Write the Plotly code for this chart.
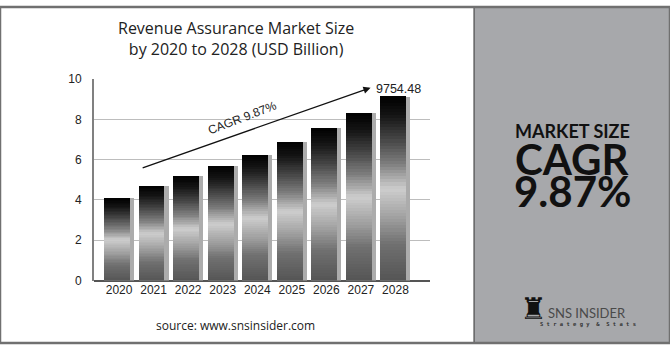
import plotly.graph_objects as go
import numpy as np

# ---- data ----
years = ["2020", "2021", "2022", "2023", "2024", "2025", "2026", "2027", "2028"]
values = [4.10, 4.71, 5.19, 5.68, 6.24, 6.87, 7.56, 8.30, 9.13]
y_ticks = [0, 2, 4, 6, 8, 10]
title_text = "Revenue Assurance Market Size<br>by 2020 to 2028 (USD Billion)"
cagr_text = "CAGR 9.87%"
end_label = "9754.48"
source_text = "source: www.snsinsider.com"

# gradient stops (fraction from bottom, grey level)
grad_pos = [0.0, 0.2, 0.34, 0.5, 0.63, 0.78, 0.9, 1.0]
grad_lvl = [85, 112, 160, 205, 128, 64, 20, 0]

def grey(t):
    v = int(round(np.interp(t, grad_pos, grad_lvl)))
    return f"rgb({v},{v},{v})"

fig = go.Figure()

# shadow strip behind each bar
fig.add_trace(go.Bar(
    x=years, y=values, width=0.87, offset=-0.435,
    marker=dict(color="#acacac", line=dict(width=0)),
    hoverinfo="skip", showlegend=False))

# gradient bars built from horizontal slices
N = 60
vals = np.array(values)
for k in range(N):
    t0 = k / N
    fig.add_trace(go.Bar(
        x=years, y=vals / N * 1.03, base=vals * t0, width=0.75, offset=-0.435,
        marker=dict(color=grey((k + 0.5) / N), line=dict(width=0)),
        hoverinfo="skip", showlegend=False))

def pa(x, y, text, size, family="Lato", color="#111", **kw):
    return dict(x=x / 670, y=1 - y / 350, xref="paper", yref="paper", text=text,
                showarrow=False, xanchor="center", yanchor="middle",
                font=dict(family=family, size=size, color=color), **kw)

ann = []
# CAGR arrow
ann.append(dict(x=7.28, y=9.57, ax=0.64, ay=5.57, xref="x", yref="y", axref="x", ayref="y",
                text="", showarrow=True, arrowhead=2, arrowsize=1.1, arrowwidth=1.3,
                arrowcolor="#111"))
ann.append(dict(x=3.55, y=8.08, xref="x", yref="y", text=cagr_text, showarrow=False,
                xanchor="center", yanchor="middle", textangle=-21,
                font=dict(family="Liberation Sans", size=12, color="#222")))
ann.append(dict(x=8.1, y=9.5, xref="x", yref="y", text=end_label, showarrow=False,
                xanchor="center", yanchor="middle",
                font=dict(family="Liberation Sans", size=12.5, color="#222")))
# title
ann.append(pa(236, 33, title_text, 16, family="Open Sans", color="#222", align="center"))
# source
ann.append(pa(235, 332, source_text, 12, family="Open Sans", color="#222"))
# right panel text
ann.append(pa(572, 129, "<b>MARKET SIZE</b>", 18))
ann.append(pa(572, 158, "<b>CAGR</b>", 42))
ann.append(pa(572, 192, "<b>9.87%</b>", 42))
# logo
ann.append(pa(533, 314, "♜", 30, family="DejaVu Sans"))
ann.append(pa(587, 319, "SNS INSIDER", 13, color="#4a4a4a"))
ann.append(pa(588, 331, "<b>S t r a t e g y  &  S t a t s</b>", 5.5,
              family="DejaVu Sans Mono", color="#333"))

shapes = [
    dict(type="rect", xref="paper", yref="paper", x0=474/670, x1=1, y0=0, y1=1,
         fillcolor="#a7a8ab", line=dict(color="#333", width=1), layer="below"),
    dict(type="rect", xref="paper", yref="paper", x0=0, x1=1, y0=0, y1=1,
         fillcolor="rgba(0,0,0,0)", line=dict(color="#707070", width=2.5)),
]

fig.update_layout(
    width=670, height=350, margin=dict(l=0, r=0, t=0, b=0),
    paper_bgcolor="white", plot_bgcolor="white",
    barmode="overlay", bargap=0,
    showlegend=False,
    annotations=ann, shapes=shapes,
    xaxis=dict(domain=[94/670, 430/670], type="category", range=[-0.725, 9.0],
               showgrid=False, showline=False, ticks="", zeroline=False,
               tickfont=dict(family="Liberation Sans", size=12, color="#222")),
    yaxis=dict(domain=[1-285/350, 1-75/350], range=[0, 10], tickvals=y_ticks,
               showgrid=True, gridcolor="#bdbdbd", gridwidth=1,
               showline=True, linecolor="#808080", linewidth=2,
               zeroline=True, zerolinecolor="#555", zerolinewidth=2,
               ticks="", ticklabelstandoff=8,
               tickfont=dict(family="Liberation Sans", size=12, color="#222")),
)

fig.write_html("out.html", post_script="document.body.style.margin='0';")
